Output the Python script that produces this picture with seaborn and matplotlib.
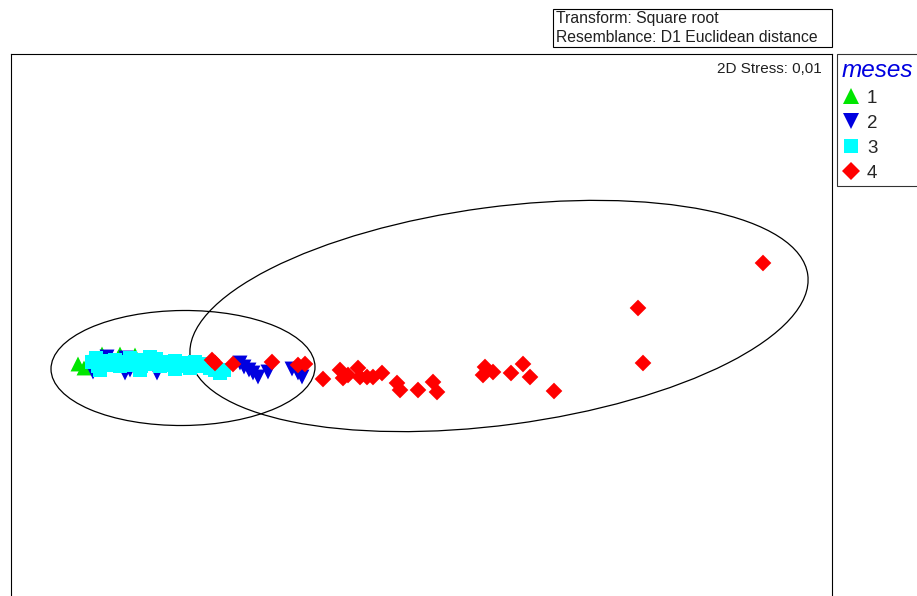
import numpy as np
import pandas as pd
import matplotlib
matplotlib.use('Agg')
import matplotlib.pyplot as plt
from matplotlib.patches import Ellipse, Rectangle
import seaborn as sns

# nMDS coordinates per month (group)
mds1_g1 = [-3.22, -3.16, -3.11, -2.98, -2.80, -2.65, -2.82]
mds2_g1 = [0.06, 0.02, 0.08, 0.16, 0.16, 0.15, 0.12]

mds1_g2 = [-3.07, -2.93, -2.74, -2.75, -2.43, -2.70, -1.60, -1.56, -1.51, -1.47,
           -1.42, -1.32, -1.08, -1.02, -0.98]
mds2_g2 = [-0.02, 0.13, 0.12, -0.03, -0.03, 0.00, 0.07, 0.03, 0.00, -0.03,
           -0.07, -0.02, 0.01, -0.03, -0.07]

mds1_g3 = [-3.08, -3.02, -2.96, -2.90, -2.85, -2.80, -2.74, -2.69, -2.64, -2.59,
           -2.54, -2.49, -2.44, -2.40, -2.35, -2.30, -2.25, -2.20, -2.15, -2.10,
           -2.05, -2.00, -1.95, -1.90, -1.85, -1.80, -1.76, -3.04, -2.70, -2.50,
           -3.00, -2.60, -2.25]
mds2_g3 = [0.08, 0.04, 0.09, 0.05, 0.10, 0.04, 0.08, 0.05, 0.10, 0.04,
           0.09, 0.06, 0.11, 0.04, 0.08, 0.05, 0.09, 0.04, 0.07, 0.02,
           0.08, 0.04, 0.06, 0.02, 0.00, -0.03, 0.00, 0.12, 0.12, 0.13,
           0.00, 0.00, 0.01]

mds1_g4 = [-1.88, -1.85, -1.67, -1.28, -1.02, -0.95, -0.77, -0.60, -0.57, -0.52,
           -0.42, -0.40, -0.33, -0.27, -0.18, -0.03, 0.00, 0.18, 0.33, 0.37,
           0.85, 0.83, 0.93, 1.11, 1.23, 1.30, 1.54, 2.38, 2.43, 3.63]
mds2_g4 = [0.10, 0.07, 0.06, 0.08, 0.05, 0.06, -0.09, 0.00, -0.08, -0.05,
           0.02, -0.07, -0.07, -0.07, -0.03, -0.13, -0.20, -0.20, -0.12, -0.22,
           0.03, -0.05, -0.02, -0.03, 0.06, -0.07, -0.21, 0.62, 0.07, 1.07]

groups = ['1', '2', '3', '4']
colors = {'1': '#00e600', '2': '#0000e0', '3': '#00ffff', '4': '#ff0000'}
markers = {'1': '^', '2': 'v', '3': 's', '4': 'D'}
msizes = {'1': 115, '2': 115, '3': 95, '4': 72}

# cluster ellipses: centre x, centre y, width, height, angle
ell_x = [-2.17, 0.99]
ell_y = [0.02, 0.54]
ell_w = [2.64, 6.23]
ell_h = [1.15, 2.18]
ell_ang = [0.5, 7.6]

df = pd.concat([
    pd.DataFrame({'MDS1': mds1_g1, 'MDS2': mds2_g1, 'meses': '1'}),
    pd.DataFrame({'MDS1': mds1_g2, 'MDS2': mds2_g2, 'meses': '2'}),
    pd.DataFrame({'MDS1': mds1_g3, 'MDS2': mds2_g3, 'meses': '3'}),
    pd.DataFrame({'MDS1': mds1_g4, 'MDS2': mds2_g4, 'meses': '4'}),
], ignore_index=True)

sns.set_theme(style='white')
plt.rcParams['font.family'] = ['Liberation Sans', 'DejaVu Sans']

W, H = 917, 596
fig = plt.figure(figsize=(W / 100, H / 100), dpi=100)
ax = fig.add_axes([11 / W, (H - 605) / H, 821 / W, 551 / H])

sns.scatterplot(data=df, x='MDS1', y='MDS2', hue='meses', style='meses',
                size='meses', hue_order=groups, style_order=groups,
                size_order=groups, palette=colors, markers=markers,
                sizes=msizes, linewidth=0, ax=ax, zorder=3)

for cx, cy, w, h, a in zip(ell_x, ell_y, ell_w, ell_h, ell_ang):
    ax.add_patch(Ellipse((cx, cy), w, h, angle=a, fill=False,
                         edgecolor='black', linewidth=0.9, zorder=2))

ax.set_xlim(-3.89, 4.32)
ax.set_ylim(-2.35, 3.16)
ax.set_xticks([])
ax.set_yticks([])
ax.set_xlabel('')
ax.set_ylabel('')
for sp in ax.spines.values():
    sp.set_color('black')
    sp.set_linewidth(0.8)

ax.text(0.9878, 0.973, '2D Stress: 0,01', transform=ax.transAxes,
        ha='right', va='center', fontsize=11, color='#202020')

# info box above the plot
fig.add_artist(Rectangle((553 / W, 1 - 47 / H), 279 / W, 38 / H,
                         transform=fig.transFigure, fill=False,
                         edgecolor='black', linewidth=0.8))
fig.text(556 / W, 1 - 18 / H, 'Transform: Square root', ha='left',
         va='center', fontsize=11.3, color='#202020')
fig.text(556 / W, 1 - 37 / H, 'Resemblance: D1 Euclidean distance', ha='left',
         va='center', fontsize=11.3, color='#202020')

sns.move_legend(ax, 'upper left', bbox_to_anchor=(837 / W, 1 - 54 / H),
                bbox_transform=fig.transFigure, title='meses', frameon=True,
                fontsize=13.5, title_fontsize=17.5, labelspacing=0.42,
                handletextpad=0.35, borderpad=0.25, handlelength=1.0,
                borderaxespad=0, fancybox=False)
leg = ax.legend_
leg._legend_box.align = 'left'
leg.get_title().set_color('#0000e0')
leg.get_title().set_fontstyle('italic')
leg.get_frame().set_edgecolor('black')
leg.get_frame().set_linewidth(0.8)
for hd, ms in zip(leg.legend_handles, [11, 11, 10.5, 9]):
    hd.set_markersize(ms)

fig.savefig('out.png', dpi=100)
